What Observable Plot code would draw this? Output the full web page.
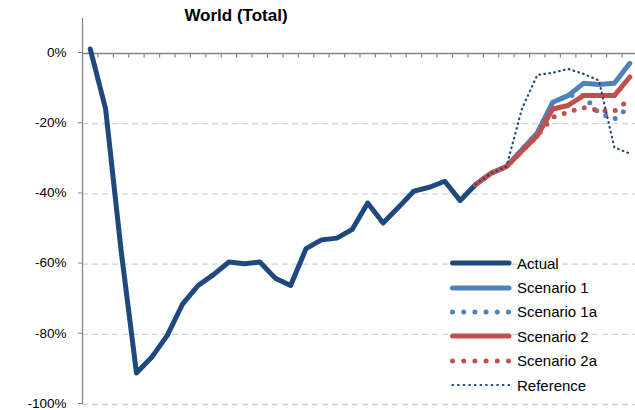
<!DOCTYPE html>
<html>
<head>
<meta charset="utf-8">
<script src="https://cdn.jsdelivr.net/npm/d3@7"></script>
<script src="https://cdn.jsdelivr.net/npm/@observablehq/plot@0.6"></script>
<style>
  html, body { margin: 0; padding: 0; background: #fff; }
  #wrap { position: relative; width: 635px; height: 410px; overflow: hidden; font-family: "Liberation Sans", Arial, sans-serif; }
  #title { position: absolute; left: 0; width: 472px; top: 6px; text-align: center; font-weight: bold; font-size: 17px; color: #000; }
  #legend { position: absolute; left: 450px; top: 251px; font-size: 15px; color: #000; }
  #legend .row { height: 24.4px; display: flex; align-items: center; }
  #legend svg { width: 62px; height: 10px; margin-right: 5px; }
</style>
</head>
<body>
<div id="wrap">
  <div id="chart"></div>
  <div id="title">World (Total)</div>
  <div id="legend"></div>
</div>
<script>
// Weekly index of categories (36 weeks)
const weeks = d3.range(36);
const projectionStart = 25;

// Values in percent
const actual = [1.3, -15.8, -56, -91, -86.5, -80.3, -71.3, -66.1, -63.0, -59.4, -59.9, -59.4, -64.0, -66.1, -55.6, -53.1, -52.6, -50.1, -42.6, -48.3, -43.8, -39.2, -38.1, -36.4, -41.9, -37.3];
const scenario1  = [-37.3, -34.1, -32.2, -27.4, -22.6, -13.9, -12.0, -8.5, -8.8, -8.5, -2.8];
const scenario1a = [-37.3, -34.1, -32.2, -27.4, -22.6, -13.9, -12.0, -12.0, -17.0, -18.7, -15.0];
const scenario2  = [-37.3, -34.1, -32.2, -27.8, -23.4, -15.8, -14.8, -12.0, -12.0, -12.0, -6.7];
const scenario2a = [-37.3, -34.1, -32.2, -27.8, -23.4, -18.2, -16.7, -15.4, -16.2, -16.4, -13.1];
const reference  = [-37.3, -34.1, -32.2, -15.8, -6.1, -5.5, -4.4, -5.8, -7.7, -26.8, -28.5];

const yTicks = [0, -20, -40, -60, -80, -100];
const yGrid = [-20, -40, -60, -80, -100];
const seriesNames = ["Actual", "Scenario 1", "Scenario 1a", "Scenario 2", "Scenario 2a", "Reference"];

const navy = "#1F497D", blue = "#4F81BD", red = "#C0504D", gray = "#868686";

const toRows = (arr, start) => arr.map((v, i) => ({week: weeks[start + i], value: v}));
const actualRows = toRows(actual, 0);
const s1Rows = toRows(scenario1, projectionStart);
const s1aRows = toRows(scenario1a, projectionStart);
const s2Rows = toRows(scenario2, projectionStart);
const s2aRows = toRows(scenario2a, projectionStart);
const refRows = toRows(reference, projectionStart);
const boundaries = weeks.slice(1).map(w => w - 0.5);

const chart = Plot.plot({
  width: 635,
  height: 410,
  marginLeft: 82,
  marginRight: 0,
  marginTop: 18,
  marginBottom: 6,
  style: {fontFamily: "Liberation Sans, Arial, sans-serif", fontSize: "14px", color: "#000", background: "#fff"},
  x: {domain: [-0.5, 35.5], range: [82, 637], axis: null},
  y: {domain: [-100, 10], range: [404, 17.9]},
  marks: [
    Plot.gridY(yGrid, {stroke: "#D0D0D0", strokeOpacity: 1, strokeWidth: 1.3, strokeDasharray: "6,4"}),
    Plot.axisY(yTicks, {tickFormat: d => d + "%", tickSize: 4, tickPadding: 12, stroke: gray, fontSize: 13.5, dy: -1, label: null}),
    Plot.ruleX([-0.5], {y1: -100, y2: 10, stroke: gray, strokeWidth: 1.3}),
    Plot.ruleY([0], {x1: -0.5, x2: 35.5, stroke: gray, strokeWidth: 1.5}),
    Plot.ruleX(boundaries, {x: d => d, y1: 0, y2: -1.3, stroke: gray, strokeWidth: 1.2}),
    Plot.line(actualRows, {x: "week", y: "value", stroke: navy, strokeWidth: 5, strokeLinejoin: "round", strokeLinecap: "round"}),
    Plot.line(s1Rows, {x: "week", y: "value", stroke: blue, strokeWidth: 5, strokeLinejoin: "round", strokeLinecap: "round"}),
    Plot.line(s1aRows, {x: "week", y: "value", stroke: blue, strokeWidth: 5, strokeLinecap: "round", strokeDasharray: "0,10.5"}),
    Plot.line(s2Rows, {x: "week", y: "value", stroke: red, strokeWidth: 5, strokeLinejoin: "round", strokeLinecap: "round"}),
    Plot.line(s2aRows, {x: "week", y: "value", stroke: red, strokeWidth: 5, strokeLinecap: "round", strokeDasharray: "0,10.5"}),
    Plot.line(refRows, {x: "week", y: "value", stroke: navy, strokeWidth: 2.2, strokeLinecap: "round", strokeDasharray: "0.6,4.4"})
  ]
});
document.getElementById("chart").appendChild(chart);

// Legend
const legendStyles = [
  {stroke: navy, w: 5, dash: null, cap: "round"},
  {stroke: blue, w: 5, dash: null, cap: "round"},
  {stroke: blue, w: 5, dash: "0,11.2", cap: "round"},
  {stroke: red, w: 5, dash: null, cap: "round"},
  {stroke: red, w: 5, dash: "0,11.2", cap: "round"},
  {stroke: navy, w: 2.2, dash: "0.6,5", cap: "round"}
];
const legend = d3.select("#legend");
seriesNames.forEach((name, i) => {
  const s = legendStyles[i];
  const row = legend.append("div").attr("class", "row");
  const svg = row.append("svg").attr("viewBox", "0 0 62 10");
  svg.append("line")
    .attr("x1", 2.5).attr("x2", 59).attr("y1", 5).attr("y2", 5)
    .attr("stroke", s.stroke).attr("stroke-width", s.w)
    .attr("stroke-linecap", s.cap)
    .attr("stroke-dasharray", s.dash);
  row.append("span").text(name);
});
</script>
</body>
</html>
